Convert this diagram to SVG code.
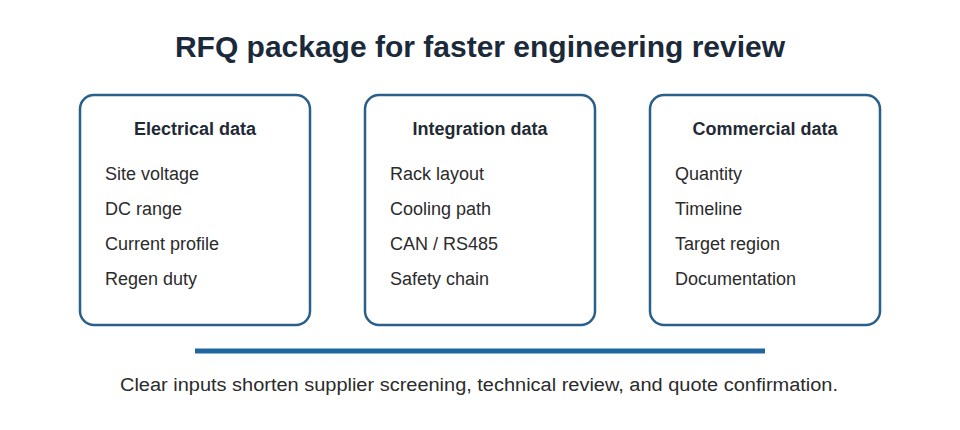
<svg xmlns="http://www.w3.org/2000/svg" width="960" height="430" viewBox="0 0 960 430">
<style>
.box{fill:#fff;stroke:#2a5f8a;stroke-width:2.5}
.h{font-family:"Liberation Sans",Arial,sans-serif;font-weight:bold;font-size:18px;fill:#1f2a36;text-anchor:middle}
.t{font-family:"Liberation Sans",Arial,sans-serif;font-size:18px;fill:#2b2b2b}
</style>
<rect width="960" height="430" fill="#fff"/>
<text x="480" y="57" text-anchor="middle" font-family="Liberation Sans,Arial,sans-serif" font-weight="bold" font-size="30" fill="#1b2a3a">RFQ package for faster engineering review</text>
<g id="electrical">
<rect class="box" x="80" y="95" width="230" height="230" rx="14"/>
<text class="h" x="195" y="135">Electrical data</text>
<text class="t" x="105" y="180">Site voltage</text>
<text class="t" x="105" y="215">DC range</text>
<text class="t" x="105" y="250">Current profile</text>
<text class="t" x="105" y="285">Regen duty</text>
</g>
<g id="integration">
<rect class="box" x="365" y="95" width="230" height="230" rx="14"/>
<text class="h" x="480" y="135">Integration data</text>
<text class="t" x="390" y="180">Rack layout</text>
<text class="t" x="390" y="215">Cooling path</text>
<text class="t" x="390" y="250">CAN / RS485</text>
<text class="t" x="390" y="285">Safety chain</text>
</g>
<g id="commercial">
<rect class="box" x="650" y="95" width="230" height="230" rx="14"/>
<text class="h" x="765" y="135">Commercial data</text>
<text class="t" x="675" y="180">Quantity</text>
<text class="t" x="675" y="215">Timeline</text>
<text class="t" x="675" y="250">Target region</text>
<text class="t" x="675" y="285">Documentation</text>
</g>
<g id="connectors">
<line x1="195" y1="351" x2="765" y2="351" stroke="#1f66a0" stroke-width="5"/>
</g>
<text x="120" y="391" class="t" textLength="718" lengthAdjust="spacingAndGlyphs">Clear inputs shorten supplier screening, technical review, and quote confirmation.</text>
</svg>
